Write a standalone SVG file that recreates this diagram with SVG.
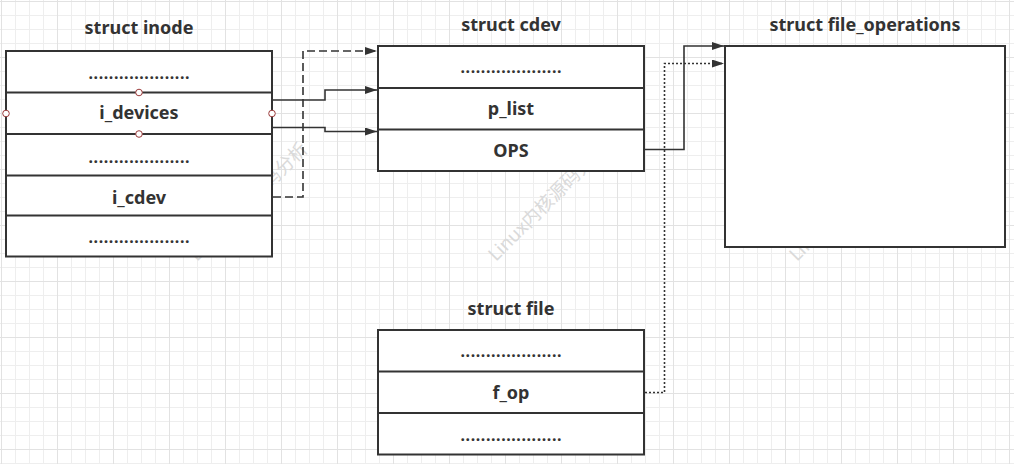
<svg xmlns="http://www.w3.org/2000/svg" width="1014" height="464" viewBox="0 0 1014 464">
<style>
.title{font-family:"Noto Sans","Open Sans","Liberation Sans",sans-serif;font-weight:700;font-size:18px;fill:#333;text-anchor:middle}
.field{font-family:"Noto Sans","Open Sans","Liberation Sans",sans-serif;font-weight:700;font-size:18px;fill:#333;text-anchor:middle}
.dots{font-family:"Noto Sans","Liberation Sans",sans-serif;font-weight:700;font-size:16px;fill:#333;text-anchor:middle}
.box{fill:#fff;stroke:#333;stroke-width:2}
.div{stroke:#333;stroke-width:2;fill:none}
.conn{fill:none;stroke:#333;stroke-width:1.6}
.dash{stroke-dasharray:8 4}
.dot{stroke-dasharray:2 2}
.pt{fill:#fff;stroke:#9b3b3b;stroke-width:1}
.wm{font-family:"Noto Sans","Noto Sans CJK SC",sans-serif;font-size:18.5px;fill:#dadada}
</style>
<defs>
<pattern id="grid" patternUnits="userSpaceOnUse" x="1" y="1" width="56" height="56">
<rect width="56" height="56" fill="#fff"/>
<rect x="14" y="0" width="1" height="56" fill="#eeeeee"/>
<rect x="28" y="0" width="1" height="56" fill="#eeeeee"/>
<rect x="42" y="0" width="1" height="56" fill="#eeeeee"/>
<rect x="0" y="14" width="56" height="1" fill="#eeeeee"/>
<rect x="0" y="28" width="56" height="1" fill="#eeeeee"/>
<rect x="0" y="42" width="56" height="1" fill="#eeeeee"/>
<rect x="0" y="0" width="1" height="56" fill="#e2e2e2"/>
<rect x="0" y="0" width="56" height="1" fill="#e2e2e2"/>
</pattern>
<marker id="arr" markerUnits="userSpaceOnUse" markerWidth="13" markerHeight="9" refX="12" refY="4" orient="auto">
<path d="M0,0 L12,4 L0,8 z" fill="#333"/>
</marker>
</defs>
<rect width="1014" height="464" fill="url(#grid)"/>
<g id="watermarks">
<text class="wm" transform="translate(197,262) rotate(-45)">Linux内核源码分析</text>
<text class="wm" transform="translate(496,262) rotate(-45)">Linux内核源码分析</text>
<text class="wm" transform="translate(797,262) rotate(-45)">Linux内核源码分析</text>
</g>
<g id="inode">
<text class="title" x="139" y="34">struct inode</text>
<rect class="box" x="6" y="51" width="266" height="205.5"/>
<path class="div" d="M6,92.5H272M6,134H272M6,175.5H272M6,215.5H272"/>
<text class="dots" x="139" y="79" textLength="101" lengthAdjust="spacing">....................</text>
<text class="field" x="139" y="119">i_devices</text>
<text class="dots" x="139" y="162.5" textLength="101" lengthAdjust="spacing">....................</text>
<text class="field" x="139" y="204">i_cdev</text>
<text class="dots" x="139" y="242.5" textLength="101" lengthAdjust="spacing">....................</text>
<circle class="pt" cx="139" cy="92.5" r="3.3"/>
<circle class="pt" cx="139" cy="134" r="3.3"/>
<circle class="pt" cx="6" cy="113.5" r="3.3"/>
<circle class="pt" cx="272" cy="113.5" r="3.3"/>
</g>
<g id="cdev">
<text class="title" x="511" y="31">struct cdev</text>
<rect class="box" x="378" y="46" width="266" height="125"/>
<path class="div" d="M378,88H644M378,129.5H644"/>
<text class="dots" x="511" y="73" textLength="101" lengthAdjust="spacing">....................</text>
<text class="field" x="511" y="115">p_list</text>
<text class="field" x="511" y="157">OPS</text>
</g>
<g id="file">
<text class="title" x="511" y="315">struct file</text>
<rect class="box" x="378" y="330" width="266" height="124.5"/>
<path class="div" d="M378,371.5H644M378,413H644"/>
<text class="dots" x="511" y="357" textLength="101" lengthAdjust="spacing">....................</text>
<text class="field" x="511" y="398.5">f_op</text>
<text class="dots" x="511" y="441" textLength="101" lengthAdjust="spacing">....................</text>
</g>
<g id="file_operations">
<text class="title" x="865" y="31">struct file_operations</text>
<rect class="box" x="725" y="46" width="280" height="201"/>
</g>
<g id="connectors">
<path class="conn dash" d="M273,197H303V51H377" marker-end="url(#arr)"/>
<path class="conn" d="M273,100H325V90H377" marker-end="url(#arr)"/>
<path class="conn" d="M273,127.5H325V131.5H377" marker-end="url(#arr)"/>
<path class="conn" d="M645,149.5H684V46H724" marker-end="url(#arr)"/>
<path class="conn dot" d="M645,392.5H664.5V63.5H724" marker-end="url(#arr)"/>
</g>
</svg>
